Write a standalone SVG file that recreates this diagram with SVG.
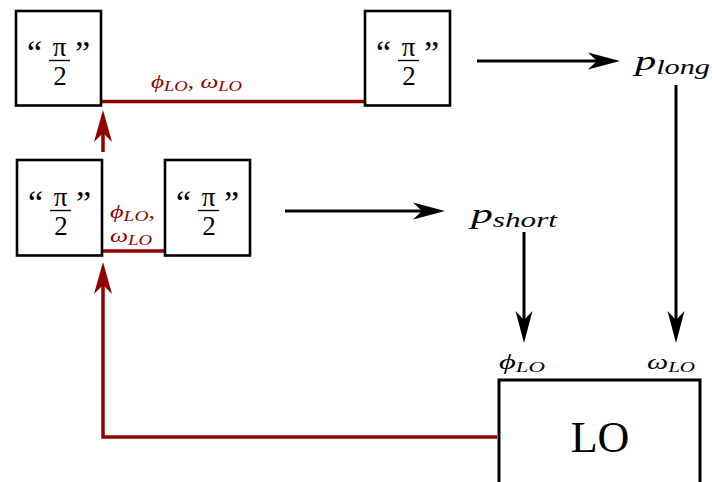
<svg xmlns="http://www.w3.org/2000/svg" width="712" height="482" viewBox="0 0 712 482">
<style>
.box{fill:#fff;stroke:#000;stroke-width:2.6}
.t{font-family:"Liberation Serif","DejaVu Serif",serif;fill:#000}
.q{font-size:34px}
.f{font-size:27px}
.r{fill:#8f0000}
.blk{stroke:#000;stroke-width:3;fill:none}
.red{stroke:#8f0000;stroke-width:3.5;fill:none}
</style>
<defs>
<marker id="ab" viewBox="-32 -10 34 20" refX="-20" refY="0" markerWidth="34" markerHeight="20" markerUnits="userSpaceOnUse" orient="auto">
<path d="M0,0 L-32,-8.5 L-23,0 L-32,8.5 z" fill="#000"/>
</marker>
<marker id="ar" viewBox="-32 -10 34 20" refX="-20" refY="0" markerWidth="34" markerHeight="20" markerUnits="userSpaceOnUse" orient="auto">
<path d="M0,0 L-32,-9 L-23,0 L-32,9 z" fill="#8f0000"/>
</marker>
<g id="frac">
<text class="t q" x="27" y="64">“</text>
<text class="t f" x="59.5" y="56" text-anchor="middle">π</text>
<line x1="49" y1="60.5" x2="70" y2="60.5" stroke="#000" stroke-width="1.4"/>
<text class="t f" x="60" y="85" text-anchor="middle">2</text>
<text class="t q" x="75" y="64">”</text>
</g>
</defs>
<g id="connectors">
<line class="red" x1="101" y1="101.5" x2="365" y2="101.5"/>
<line class="red" x1="102" y1="251" x2="165" y2="251"/>
<line class="blk" x1="477" y1="61" x2="600" y2="61" marker-end="url(#ab)"/>
<line class="blk" x1="285" y1="211" x2="425" y2="211" marker-end="url(#ab)"/>
<line class="blk" x1="524" y1="232" x2="524" y2="323" marker-end="url(#ab)"/>
<line class="blk" x1="676" y1="85" x2="676" y2="323" marker-end="url(#ab)"/>
<line class="red" x1="103" y1="152" x2="103" y2="130" marker-end="url(#ar)"/>
<path class="red" d="M497,437 H103 V282" marker-end="url(#ar)"/>
</g>
<g id="box1">
<rect class="box" x="16" y="11" width="85" height="94.5"/>
<use href="#frac"/>
</g>
<g id="box2">
<rect class="box" x="365" y="11" width="85" height="94.5"/>
<use href="#frac" x="349"/>
</g>
<g id="box3">
<rect class="box" x="17" y="160" width="85" height="95.5"/>
<use href="#frac" x="1" y="150"/>
</g>
<g id="box4">
<rect class="box" x="165" y="160" width="85" height="95.5"/>
<use href="#frac" x="149" y="150"/>
</g>
<g id="label-top">
<text class="t r" x="151" y="88" font-size="19" font-style="italic" textLength="91" lengthAdjust="spacingAndGlyphs">ϕ<tspan font-size="14" dy="3">LO</tspan><tspan dy="-3">, </tspan>ω<tspan font-size="14" dy="3">LO</tspan></text>
</g>
<g id="label-mid">
<text class="t r" x="110" y="218" font-size="19" font-style="italic" textLength="45" lengthAdjust="spacingAndGlyphs">ϕ<tspan font-size="14" dy="3">LO</tspan><tspan dy="-3">,</tspan></text>
<text class="t r" x="110" y="242" font-size="19" font-style="italic" textLength="42" lengthAdjust="spacingAndGlyphs">ω<tspan font-size="14" dy="3">LO</tspan></text>
</g>
<g id="plong">
<text class="t" x="635" y="70" font-size="28" font-style="italic" textLength="75" lengthAdjust="spacingAndGlyphs">p<tspan font-size="20" dy="4">long</tspan></text>
</g>
<g id="pshort">
<text class="t" x="471" y="223" font-size="28" font-style="italic" textLength="86" lengthAdjust="spacingAndGlyphs">p<tspan font-size="20" dy="4">short</tspan></text>
</g>
<g id="LO">
<rect x="499" y="380" width="201" height="120" fill="#fff" stroke="#000" stroke-width="3"/>
<text class="t" x="600" y="452" font-size="44" text-anchor="middle">LO</text>
<text class="t" x="499" y="369" font-size="20" font-style="italic" textLength="46" lengthAdjust="spacingAndGlyphs">ϕ<tspan font-size="14" dy="3">LO</tspan></text>
<text class="t" x="647" y="369" font-size="20" font-style="italic" textLength="48" lengthAdjust="spacingAndGlyphs">ω<tspan font-size="14" dy="3">LO</tspan></text>
</g>
</svg>
